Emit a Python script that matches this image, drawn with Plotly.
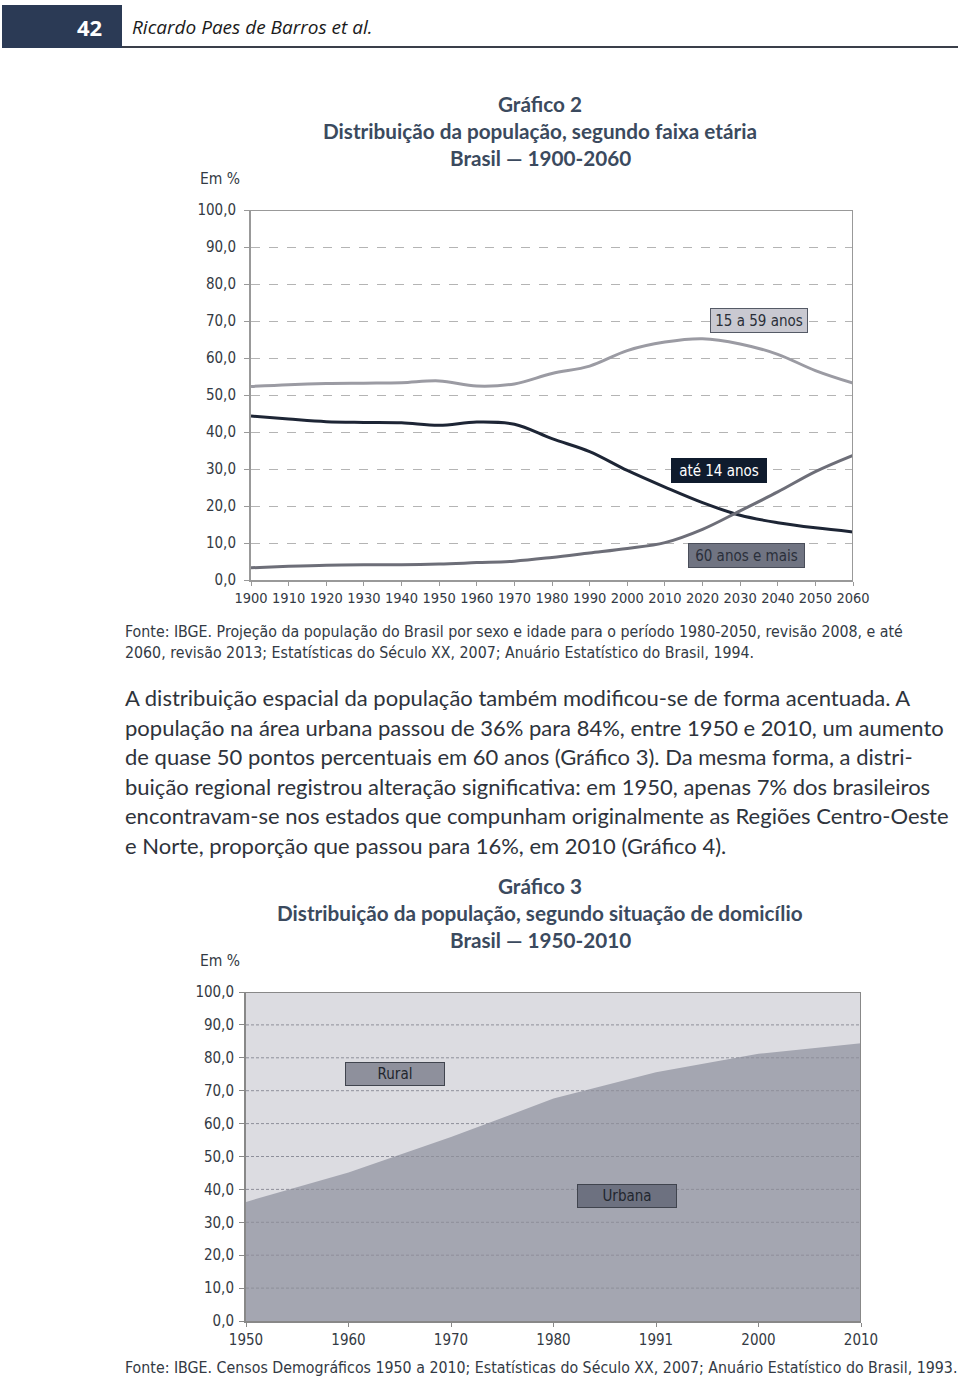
import plotly.graph_objects as go

W, H = 960, 1378

# ---------------- Data ----------------
years1 = [1900, 1910, 1920, 1930, 1940, 1950, 1960, 1970, 1980, 1990, 2000, 2010, 2020, 2030, 2040, 2050, 2060]
age_15_59 = [52.3, 52.8, 53.1, 53.2, 53.3, 53.8, 52.4, 53.0, 55.8, 57.8, 62.0, 64.3, 65.2, 63.8, 61.0, 56.6, 53.2]
age_0_14 = [44.3, 43.5, 42.8, 42.6, 42.5, 41.8, 42.7, 42.1, 38.2, 34.7, 29.6, 25.1, 20.9, 17.5, 15.5, 14.1, 13.0]
age_60p = [3.3, 3.7, 4.0, 4.1, 4.1, 4.3, 4.7, 5.1, 6.1, 7.3, 8.5, 10.1, 13.7, 18.7, 23.8, 29.3, 33.7]

years2 = ["1950", "1960", "1970", "1980", "1991", "2000", "2010"]
urbana = [36.2, 45.1, 55.9, 67.6, 75.6, 81.2, 84.4]
rural_top = [100, 100, 100, 100, 100, 100, 100]

yticks = [0, 10, 20, 30, 40, 50, 60, 70, 80, 90, 100]
yticktext = [f"{v:.1f}".replace(".", ",") for v in yticks]

COND = "Liberation Sans Narrow, DejaVu Sans Condensed, Roboto Condensed, Arial Narrow, sans-serif"
BODY = "Lato, Noto Sans, sans-serif"
TXT = "#333a44"
TITLE = "#3b4a5e"


def px(x):
    return x / W


def py(y):
    return 1 - y / H


fig = go.Figure()

# ---------------- Chart 1 traces ----------------
fig.add_trace(go.Scatter(x=years1, y=age_15_59, mode="lines", line=dict(color="#9b9ba3", width=3, shape="spline"),
                         xaxis="x", yaxis="y", showlegend=False, hoverinfo="skip"))
fig.add_trace(go.Scatter(x=years1, y=age_0_14, mode="lines", line=dict(color="#1d2535", width=3, shape="spline"),
                         xaxis="x", yaxis="y", showlegend=False, hoverinfo="skip"))
fig.add_trace(go.Scatter(x=years1, y=age_60p, mode="lines", line=dict(color="#6d6e78", width=3, shape="spline"),
                         xaxis="x", yaxis="y", showlegend=False, hoverinfo="skip"))

# ---------------- Chart 2 traces ----------------
xi = list(range(len(years2)))
fig.add_trace(go.Scatter(x=xi, y=rural_top, mode="lines", line=dict(width=0, color="#dcdce1"),
                         fill="tozeroy", fillcolor="#dcdce1", xaxis="x2", yaxis="y2", showlegend=False, hoverinfo="skip"))
fig.add_trace(go.Scatter(x=xi, y=urbana, mode="lines", line=dict(width=0, color="#a4a6b1"),
                         fill="tozeroy", fillcolor="#a4a6b1", xaxis="x2", yaxis="y2", showlegend=False, hoverinfo="skip"))

shapes = []
# chart 2 dashed gridlines above fills
for v in yticks[1:-1]:
    shapes.append(dict(type="line", xref="x2", yref="y2", x0=0, x1=len(years2) - 1, y0=v, y1=v,
                       line=dict(color="#8e8f9a", width=1, dash="3px,2px"), layer="above"))
# chart 1 frame (top / right)
shapes.append(dict(type="line", xref="x", yref="y", x0=1900, x1=2060, y0=100, y1=100, line=dict(color="#999999", width=2)))
shapes.append(dict(type="line", xref="x", yref="y", x0=2060, x1=2060, y0=0, y1=100, line=dict(color="#999999", width=2)))
# chart 2 frame
shapes.append(dict(type="line", xref="x2", yref="y2", x0=0, x1=6, y0=100, y1=100, line=dict(color="#888888", width=2), layer="above"))
shapes.append(dict(type="line", xref="x2", yref="y2", x0=6, x1=6, y0=0, y1=100, line=dict(color="#888888", width=2), layer="above"))
# header
shapes.append(dict(type="rect", xref="paper", yref="paper", x0=px(2), x1=px(122), y0=py(48), y1=py(5),
                   fillcolor="#2b3a55", line=dict(width=0)))
shapes.append(dict(type="line", xref="paper", yref="paper", x0=px(122), x1=px(958), y0=py(47), y1=py(47),
                   line=dict(color="#3a3f4a", width=2)))

ann = []


def text(x, y, s, size, color=TXT, family=BODY, xanchor="left", **kw):
    ann.append(dict(x=px(x), y=py(y), xref="paper", yref="paper", text=s, showarrow=False,
                    xanchor=xanchor, yanchor="middle", font=dict(size=size, color=color, family=family), **kw))


def box(x, y, ref, s, bg, fg, border, w, h):
    ann.append(dict(x=x, y=y, xref="x" + ref, yref="y" + ref, text=s, showarrow=False, width=w, height=h,
                    font=dict(size=15, color=fg, family=COND), bgcolor=bg, bordercolor=border,
                    borderwidth=1, borderpad=2))


# header text
text(104, 27, "<b>42</b>", 22, color="white", family="Open Sans, sans-serif", xanchor="right")
text(130, 27, "<i>Ricardo Paes de Barros et al.</i>", 19, color="#1a1a1a", family="Open Sans, sans-serif")

# chart 1 titles
text(540, 104, "<b>Gráfico 2</b>", 20.7, color=TITLE, xanchor="center")
text(540, 131, "<b>Distribuição da população, segundo faixa etária</b>", 20.7, color=TITLE, xanchor="center")
text(540, 158, "<b>Brasil — 1900-2060</b>", 20.7, color=TITLE, xanchor="center")
text(198, 179, "Em %", 15.5, color=TXT, family=COND)

# chart 1 labels
box(2035, 70, "", "15 a 59 anos", "#c9c9d1", "#2a2f38", "#555a66", 92, 19)
box(2024.5, 29.7, "", "até 14 anos", "#0f1b2d", "white", "#0f1b2d", 90, 19)
box(2031.8, 6.5, "", "60 anos e mais", "#707482", "#2a2f3a", "#4a4e5a", 111, 19)

# fonte 1
text(123, 631, "Fonte: IBGE. Projeção da população do Brasil por sexo e idade para o período 1980-2050, revisão 2008, e até",
     15.8, family=COND)
text(123, 652, "2060, revisão 2013; Estatísticas do Século XX, 2007; Anuário Estatístico do Brasil, 1994.", 15.8, family=COND)

# body paragraph
body = [
    "A distribuição espacial da população também modificou-se de forma acentuada. A",
    "população na área urbana passou de 36% para 84%, entre 1950 e 2010, um aumento",
    "de quase 50 pontos percentuais em 60 anos (Gráfico 3). Da mesma forma, a distri-",
    "buição regional registrou alteração significativa: em 1950, apenas 7% dos brasileiros",
    "encontravam-se nos estados que compunham originalmente as Regiões Centro-Oeste",
    "e Norte, proporção que passou para 16%, em 2010 (Gráfico 4).",
]
for i, line in enumerate(body):
    text(123, 698 + i * 29.4, line, 22, color="#2e333b")

# chart 2 titles
text(540, 886, "<b>Gráfico 3</b>", 20.7, color=TITLE, xanchor="center")
text(540, 913, "<b>Distribuição da população, segundo situação de domicílio</b>", 20.7, color=TITLE, xanchor="center")
text(540, 940, "<b>Brasil — 1950-2010</b>", 20.7, color=TITLE, xanchor="center")
text(198, 961, "Em %", 15.5, color=TXT, family=COND)

box(1.45, 75, "2", "Rural", "#8e909c", "#22262e", "#40444e", 94, 18)
box(3.72, 38, "2", "Urbana", "#6d7180", "#22262e", "#40444e", 94, 18)

# fonte 2
text(123, 1367, "Fonte: IBGE. Censos Demográficos 1950 a 2010; Estatísticas do Século XX, 2007; Anuário Estatístico do Brasil, 1993.",
     15.8, family=COND)

tickfont = dict(size=15, color=TXT, family=COND)
xtickfont1 = dict(size=14.5, color=TXT, family=COND)

fig.update_layout(
    width=W, height=H, margin=dict(l=0, r=0, t=0, b=0, autoexpand=False),
    paper_bgcolor="white", plot_bgcolor="white",
    shapes=shapes, annotations=ann,
    xaxis=dict(domain=[px(251), px(853)], range=[1900, 2060], tickvals=years1, tickformat="d", tickangle=0,
               showgrid=False, zeroline=False, showline=True, linecolor="#999999", linewidth=2,
               ticks="outside", ticklen=4, tickcolor="#999999", tickfont=xtickfont1, anchor="y", fixedrange=True),
    yaxis=dict(domain=[py(580), py(210)], range=[0, 100], tickvals=yticks, ticktext=yticktext,
               showgrid=True, gridcolor="#b4b4b4", griddash="dash", gridwidth=1, zeroline=False,
               showline=True, linecolor="#999999", linewidth=2, ticks="outside", ticklen=5, tickcolor="#999999",
               tickfont=tickfont, ticklabelstandoff=5, anchor="x"),
    xaxis2=dict(domain=[px(246), px(861)], range=[0, 6], tickvals=xi, ticktext=years2, tickangle=0,
                showgrid=False, zeroline=False, showline=True, linecolor="#888888", linewidth=2,
                ticks="outside", ticklen=4, tickcolor="#888888", tickfont=tickfont, anchor="y2", layer="above traces"),
    yaxis2=dict(domain=[py(1321), py(992)], range=[0, 100], tickvals=yticks, ticktext=yticktext,
                showgrid=False, zeroline=False, showline=True, linecolor="#888888", linewidth=2,
                ticks="outside", ticklen=5, tickcolor="#888888", tickfont=tickfont, ticklabelstandoff=2,
                anchor="x2", layer="above traces"),
)

fig.write_html("out.html",
               post_script="document.body.style.margin='0';document.body.style.padding='0';"
                           "document.documentElement.style.overflow='hidden';")
